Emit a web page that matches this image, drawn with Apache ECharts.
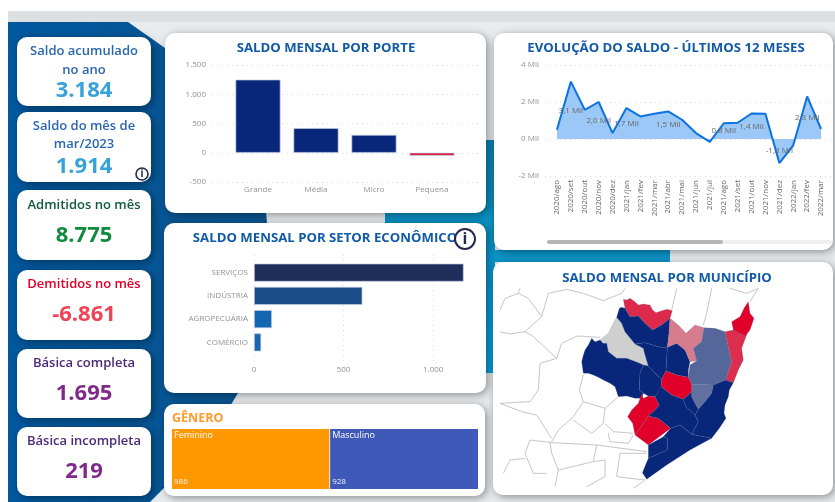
<!DOCTYPE html>
<html style="height: 100%">
<head>
    <meta charset="utf-8" />
    <title>Saldo mensal</title>
    <script type="text/javascript" src="https://cdn.jsdelivr.net/npm/echarts@6/dist/echarts.min.js"></script>
</head>
<body style="height: 100%; margin: 0; background: #fff">
<div id="painel" style="width: 835px; height: 502px; filter: blur(0.4px)"></div>
<script type="text/javascript">
      const kpiTitulos = [["Saldo acumulado", "no ano"], ["Saldo do mês de", "mar/2023"], ["Admitidos no mês"], ["Demitidos no mês"], ["Básica completa"], ["Básica incompleta"]];
      const kpiValores = ["3.184", "1.914", "8.775", "-6.861", "1.695", "219"];

      const portes = ["Grande", "Média", "Micro", "Pequena"];
      const saldoPorte = [1250, 420, 305, -50];

      const meses = ["2020/ago", "2020/set", "2020/out", "2020/nov", "2020/dez", "2021/jan", "2021/fev", "2021/mar", "2021/abr", "2021/mai",
        "2021/jun", "2021/jul", "2021/ago", "2021/set", "2021/out", "2021/nov", "2021/dez", "2022/jan", "2022/fev", "2022/mar"];
      const saldoMes = [0.5, 3.1, 1.58, 2.0, 0.32, 1.67, 1.22, 1.36, 1.49, 1.04, 0.32, -0.16, 0.85, 0.88, 1.38, 1.36, -1.3, -0.34, 2.3, 0.54];
      const mesesComRotulo = [1, 3, 5, 8, 12, 14, 16, 18];

      const setores = ["SERVIÇOS", "INDÚSTRIA", "AGROPECUÁRIA", "COMÉRCIO"];
      const saldoSetor = [1170, 605, 100, 40];

      const generos = ["Feminino", "Masculino"];
      const saldoGenero = [986, 928];

      // saldo relativo estimado pela cor de cada municipio
      const saldoMunicipio = { m1: -80, m2: 0, m3: 100, m4: 100, m5: 100, m6: 100, m7: 100, m8: -40, m9: 62, m10: 55, m11: -78,
        m12: -100, m13: -100, m14: -100, m15: -100, m16: 100, m17: 100, m18: 100, m19: 100, m20: 100 };

      // contornos dos municipios coloridos
      const contornos = {
        m1: [[130,28],[140,30],[150,25],[165,35],[175,45],[190,42],[210,45],[218,60],[228,68],[245,62],[262,58],[277,62],[270,85],[245,105],[218,120],[195,100],[175,78],[150,80],[135,55]],
        m2: [[110,82],[125,100],[135,125],[165,162],[190,175],[195,195],[205,228],[190,225],[175,218],[140,205],[110,205],[85,185],[80,160],[60,150],[85,130],[100,100]],
        m3: [[118,55],[125,52],[135,55],[150,80],[175,78],[195,100],[218,120],[245,105],[270,85],[267,130],[262,172],[240,172],[195,158],[165,162],[135,125],[125,100],[110,82]],
        m4: [[35,145],[45,155],[60,150],[70,160],[80,160],[85,185],[110,205],[140,205],[175,218],[190,225],[180,250],[178,300],[190,310],[185,325],[165,325],[140,318],[115,320],[105,290],[90,280],[70,270],[55,262],[40,255],[25,250],[10,250],[5,215],[10,195],[15,180],[25,165]],
        m5: [[165,162],[195,158],[240,172],[262,172],[258,243],[245,268],[225,250],[205,228],[195,195],[190,175]],
        m6: [[190,225],[205,228],[225,250],[245,268],[243,295],[225,320],[205,318],[190,310],[178,300],[180,250]],
        m7: [[262,172],[290,160],[315,180],[330,215],[325,240],[325,262],[290,255],[258,243]],
        m8: [[270,85],[295,105],[318,130],[345,105],[372,113],[365,155],[340,175],[350,212],[330,215],[315,180],[290,160],[262,172],[267,130]],
        m9: [[372,113],[405,115],[435,125],[447,180],[455,215],[437,270],[400,285],[335,283],[325,262],[330,225],[350,212],[340,175],[365,155]],
        m10: [[335,283],[400,285],[395,310],[375,335],[355,358],[345,340],[335,320]],
        m11: [[435,125],[460,120],[500,135],[485,175],[490,210],[475,240],[460,278],[437,270],[455,215],[447,180]],
        m12: [[505,35],[510,70],[522,85],[510,120],[497,137],[460,120],[455,95],[480,80],[492,55]],
        m13: [[258,243],[290,255],[325,262],[335,283],[335,305],[310,328],[275,315],[243,290],[245,268]],
        m14: [[185,312],[190,325],[205,318],[225,320],[238,345],[225,360],[205,378],[180,415],[165,435],[158,400],[143,380],[155,360],[175,340]],
        m15: [[205,378],[235,385],[272,415],[205,465],[165,435],[180,415]],
        m16: [[400,285],[437,270],[460,278],[448,300],[445,320],[435,345],[432,370],[438,385],[418,415],[395,445],[335,433],[355,395],[345,375],[355,358],[375,335],[395,310]],
        m17: [[243,290],[275,315],[310,328],[318,350],[345,375],[355,395],[335,433],[300,405],[272,415],[235,385],[205,378],[225,360],[238,345],[225,320]],
        m18: [[310,328],[335,305],[335,320],[345,340],[355,358],[345,375],[318,350]],
        m19: [[272,415],[300,405],[335,433],[395,445],[330,480],[260,525],[200,568],[187,548],[205,505],[262,480],[262,445],[250,440]],
        m20: [[205,465],[250,440],[262,445],[262,480],[205,505]]
      };

      // divisas dos municipios vizinhos, sem preenchimento
      const divisas = [
        [[30,150],[45,115],[85,100],[90,85]], [[85,100],[115,115],[155,170],[105,215]], [[30,215],[60,222],[105,215],[130,230],[200,295],[150,310],[145,390],[120,425],[30,430]],
        [[155,170],[175,100],[230,88],[280,100],[340,122],[395,100],[405,85]], [[200,295],[215,250],[262,228],[330,232]],
        [[560,85],[545,150]], [[665,85],[650,160],[640,195]], [[720,85],[770,100],[805,85],[780,125]],
        [[280,345],[268,390],[280,425],[345,445],[385,410]], [[280,425],[250,470],[205,510],[185,545]],
        [[345,445],[340,490],[305,520],[250,480]], [[345,490],[370,515],[430,520]], [[355,520],[360,545],[415,550],[430,525]],
        [[120,540],[185,548],[320,555],[470,575]], [[120,540],[105,580],[130,640],[170,640]], [[180,548],[185,580],[205,630],[195,680]],
        [[320,555],[310,605],[205,630]], [[310,605],[345,600],[345,650],[290,680]], [[390,580],[470,580]], [[390,580],[380,650],[465,660],[430,685]],
        [[40,640],[60,600],[105,595]], [[30,430],[95,455],[140,465],[185,535]]
      ];

      const fonte = '"Open Sans", sans-serif';
      const cinzaEixo = "#929292";
      const pontilhado = { show: true, lineStyle: { color: "#dcdcdc", type: [1, 4] } };

      function cartao(x, y, w, h) {
        return { type: "rect", z: -5, shape: { x: x, y: y, width: w, height: h, r: 10 },
          style: { fill: "#fff", shadowBlur: 8, shadowOffsetX: 2, shadowOffsetY: 2, shadowColor: "rgba(0,0,0,0.4)" } };
      }
      function texto(x, y, t, cor, font) {
        return { type: "text", z: 20, x: x, y: y, style: { text: t, fill: cor, font: font, align: "center", verticalAlign: "middle" } };
      }
      function info(x, y, r) {
        return [
          { type: "circle", z: 20, shape: { cx: x, cy: y, r: r }, style: { fill: "rgba(255,255,255,0.8)", stroke: "#23294f", lineWidth: r > 7 ? 2 : 1.6 } },
          texto(x, y, "i", "#23294f", "bold " + Math.round(r * 1.6) + "px " + fonte)
        ];
      }

      const kpiCartoes = [[37, 69], [112, 70], [190, 70], [270, 70], [349, 69], [427, 69]];
      const kpiCorTitulo = ["#2a67b0", "#2a67b0", "#0f5c3c", "#e0002a", "#4a2a78", "#4a2a78"];
      const kpiCorValor = ["#36a2dc", "#36a2dc", "#108a3c", "#ee4455", "#7f2a8a", "#7f2a8a"];
      const kpiY = [[51, 70, 91], [126, 144, 167], [205, 236], [284, 315], [363, 394], [441, 472]];

      let fundo = [
        { type: "rect", z: -10, shape: { x: 8, y: 11, width: 827, height: 11 }, style: { fill: "#dce0e3" } },
        { type: "rect", z: -10, shape: { x: 8, y: 22, width: 827, height: 480 }, style: { fill: "#e8ecef" } },
        { type: "polygon", z: -9, shape: { points: [[8,22],[128,22],[175,55],[265,200],[267,223],[238,393],[232,403],[165,487],[150,502],[8,502]] },
          style: { fill: { type: "linear", x: 0, y: 0, x2: 1, y2: 0, colorStops: [{ offset: 0, color: "#00589f" }, { offset: 1, color: "#0a5590" }] } } },
        { type: "polygon", z: -9, shape: { points: [[385,213],[400,140],[495,140],[495,250],[670,250],[670,262],[495,262],[495,373],[385,373]] },
          style: { fill: { type: "linear", x: 0, y: 0, x2: 0, y2: 1, colorStops: [{ offset: 0, color: "#0b84b4" }, { offset: 0.55, color: "#0a96cc" }, { offset: 1, color: "#08a0e0" }] } } }
      ];
      kpiCartoes.forEach(function (c) { fundo.push(cartao(17, c[0], 134, c[1])); });
      fundo.push(cartao(165, 33, 321, 180), cartao(164, 223, 322, 170), cartao(164, 404, 321, 92), cartao(494, 33, 339, 217), cartao(493, 262, 340, 233));
      // barra de rolagem do grafico de linha
      fundo.push(
        { type: "rect", z: 20, shape: { x: 547, y: 240, width: 285, height: 4, r: 2 }, style: { fill: "#efefef" } },
        { type: "rect", z: 21, shape: { x: 547, y: 240, width: 176, height: 4, r: 2 }, style: { fill: "#b5b5b5" } }
      );
      kpiTitulos.forEach(function (linhas, i) {
        linhas.forEach(function (l, j) { fundo.push(texto(84, kpiY[i][j], l, kpiCorTitulo[i], "600 13px " + fonte)); });
        fundo.push(texto(84, kpiY[i][linhas.length], kpiValores[i], kpiCorValor[i], "700 22px " + fonte));
      });
      fundo = fundo.concat(info(142, 174, 6), info(465, 239, 10));

      const featuresMapa = Object.keys(contornos).map(function (nome) {
        const anel = contornos[nome].map(function (p) { return [p[0] + 270, -(p[1] + 90)]; });
        anel.push(anel[0]);
        return { type: "Feature", properties: { name: nome }, geometry: { type: "Polygon", coordinates: [anel] } };
      });
      echarts.registerMap("municipios", { type: "FeatureCollection", features: featuresMapa });

      function milhar(v) { return String(v).replace(/\B(?=(\d{3})+$)/, "."); }
      const titulo = function (t, x, y, cor, alinhamento, tamanho) {
        return { text: t, left: x, top: y, padding: 0, textAlign: alinhamento || "center",
          textStyle: { color: cor || "#105aa8", fontFamily: fonte, fontSize: tamanho || 13.2, fontWeight: 700 } };
      };
      const eixoCat = function (extra) {
        return Object.assign({ type: "category", axisLine: { show: false, onZero: false }, axisTick: { show: false }, splitLine: { show: false } }, extra);
      };
      const rotulos = { color: cinzaEixo, fontSize: 8, fontFamily: fonte };

      let myChart = echarts.init(document.getElementById("painel"));
      const option = {
        animation: false,
        textStyle: { fontFamily: fonte },
        graphic: { elements: fundo },
        title: [
          titulo("SALDO MENSAL POR PORTE", 326, 42),
          titulo("EVOLUÇÃO DO SALDO - ÚLTIMOS 12 MESES", 666, 42),
          titulo("SALDO MENSAL POR SETOR ECONÔMICO", 325, 232),
          titulo("SALDO MENSAL POR MUNICÍPIO", 667, 272),
          titulo("GÊNERO", 172, 412, "#ff9b2e", "left", 12.5)
        ],
        grid: [
          { left: 212, width: 268, top: 65, height: 117 },
          { left: 229, width: 232, top: 65, height: 117 },
          { left: 545, width: 290, top: 65, height: 111 },
          { left: 550, width: 278, top: 65, height: 111 },
          { left: 254, width: 215, top: 255, height: 108 },
          { left: 254, width: 215, top: 261, height: 93 }
        ],
        xAxis: [
          eixoCat({ gridIndex: 0, data: [], show: false }),
          eixoCat({ gridIndex: 1, data: portes, axisLabel: Object.assign({ margin: 4, interval: 0 }, rotulos) }),
          eixoCat({ gridIndex: 2, data: [], show: false }),
          eixoCat({ gridIndex: 3, data: meses, axisLabel: { color: "#666", fontSize: 8, fontFamily: fonte, rotate: 90, margin: 4, interval: 0 } }),
          { type: "value", gridIndex: 4, min: 0, max: 1200, interval: 500, axisLine: { show: false }, axisTick: { show: false }, splitLine: Object.assign({ showMaxLine: false }, pontilhado),
            axisLabel: Object.assign({ margin: 3, showMaxLabel: false, formatter: milhar }, rotulos) },
          { type: "value", gridIndex: 5, min: 0, max: 1200, show: false, splitLine: { show: false } }
        ],
        yAxis: [
          { type: "value", gridIndex: 0, min: -500, max: 1500, interval: 500, axisLine: { show: false }, axisTick: { show: false }, splitLine: pontilhado,
            axisLabel: Object.assign({ margin: 6, formatter: milhar }, rotulos) },
          { type: "value", gridIndex: 1, min: -500, max: 1500, show: false, splitLine: { show: false } },
          { type: "value", gridIndex: 2, min: -2, max: 4, interval: 2, axisLine: { show: false }, axisTick: { show: false }, splitLine: pontilhado,
            axisLabel: Object.assign({ margin: 6, formatter: "{value} Mil" }, rotulos) },
          { type: "value", gridIndex: 3, min: -2, max: 4, show: false, splitLine: { show: false } },
          eixoCat({ gridIndex: 4, data: [], show: false }),
          eixoCat({ gridIndex: 5, data: setores, inverse: true, axisLabel: Object.assign({ margin: 6, interval: 0 }, rotulos) })
        ],
        geo: {
          map: "municipios", silent: true, aspectScale: 1, roam: false, z: 3,
          boundingCoords: [[0, 0], [1035, -726]], left: 490, top: 260, width: 345, height: 242,
          label: { show: false },
          itemStyle: { areaColor: "#fff", borderColor: "rgba(95,110,155,0.5)", borderWidth: 0.4 }
        },
        visualMap: { show: false, seriesIndex: 5, min: -100, max: 100, inRange: { color: ["#e0002a", "#cfcfcf", "#08267a"] } },
        series: [
          { type: "bar", xAxisIndex: 1, yAxisIndex: 1, data: saldoPorte, barWidth: 45,
            itemStyle: { borderColor: "#c2cae0", borderWidth: 0.7, color: function (p) { return p.value < 0 ? "#dc0a2d" : "#08267a"; } } },
          { type: "line", xAxisIndex: 3, yAxisIndex: 3, data: saldoMes, symbol: "none", lineStyle: { color: "#0b72e0", width: 2 }, areaStyle: { color: "#9cc8f8", opacity: 1 }, z: 3 },
          // rotulos no meio da area, como no painel
          { type: "line", xAxisIndex: 3, yAxisIndex: 3, symbolSize: 1, z: 4, lineStyle: { opacity: 0 }, itemStyle: { color: "rgba(0,0,0,0)" },
            data: saldoMes.map(function (v, i) {
              if (mesesComRotulo.indexOf(i) < 0) return null;
              return { value: v / 2, rotulo: v.toFixed(1).replace(".", ",") + " Mil" };
            }),
            label: { show: true, position: "inside", color: "#666", fontSize: 8, fontFamily: fonte,
              formatter: function (p) { return p.data.rotulo; } } },
          { type: "bar", xAxisIndex: 5, yAxisIndex: 5, barWidth: 18,
            data: saldoSetor.map(function (v, i) { return { value: v, itemStyle: { color: ["#1f2d5a", "#1a4d87", "#1366b0", "#1767b3"][i] } }; }),
            itemStyle: { borderColor: "#c2cae0", borderWidth: 0.7 } },
          { type: "treemap", left: 172, top: 429, width: 306, height: 60, roam: false, nodeClick: false, silent: true, breadcrumb: { show: false },
            itemStyle: { gapWidth: 1, borderWidth: 0, borderColor: "#e6e9f4" },
            label: { show: true, position: "insideTopLeft", padding: [2, 2, 0, 2], color: "#fff", fontFamily: fonte,
              formatter: function (p) { return "{a|" + p.name + "}\n{b|" + p.value + "}"; },
              rich: { a: { fontSize: 9, color: "#fff", lineHeight: 46, verticalAlign: "top" }, b: { fontSize: 8, color: "#f3f3f3", lineHeight: 10 } } },
            data: generos.map(function (g, i) { return { name: g, value: saldoGenero[i], itemStyle: { color: ["#ff9800", "#3f59b8"][i] } }; }) },
          { type: "map", geoIndex: 0, data: Object.keys(saldoMunicipio).map(function (k) { return { name: k, value: saldoMunicipio[k] }; }) },
          { type: "lines", coordinateSystem: "geo", polyline: true, silent: true, z: 3, lineStyle: { color: "#c6c6c6", width: 1, opacity: 1 },
            data: divisas.map(function (d) { return { coords: d.map(function (p) { return [p[0], -p[1]]; }) }; }) }
        ]
      };
      myChart.setOption(option);
</script>
</body>
</html>
